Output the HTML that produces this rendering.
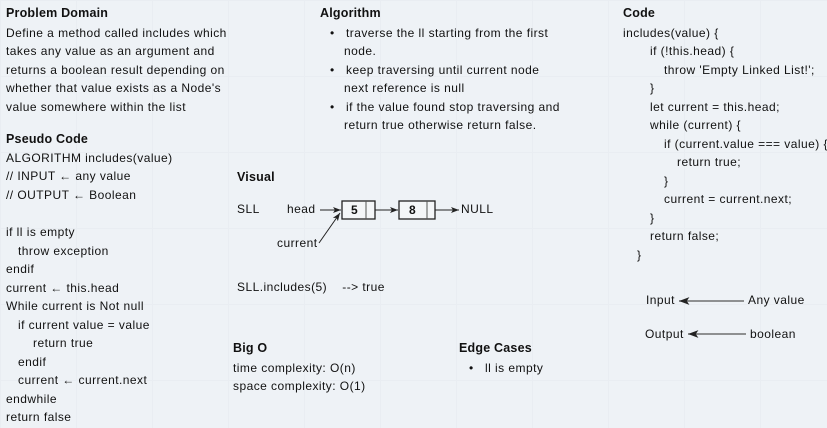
<!DOCTYPE html>
<html><head><meta charset="utf-8"><style>
body{margin:0;width:827px;height:428px;overflow:hidden;background:#eef2f6;font-family:"Liberation Sans",Arial,sans-serif;font-size:12px;color:#111;position:relative;
background-image:linear-gradient(#e9edf2 1px,transparent 1px),linear-gradient(90deg,#e9edf2 1px,transparent 1px);background-size:76px 76px;}
.t{position:absolute;white-space:nowrap;line-height:14px;letter-spacing:0.45px}
.b{font-weight:bold;font-size:12.5px;letter-spacing:0.2px}
</style></head><body>
<div class="t b" style="left:6px;top:6px">Problem Domain</div>
<div class="t" style="left:6px;top:26px">Define a method called includes which</div>
<div class="t" style="left:6px;top:44px">takes any value as an argument and</div>
<div class="t" style="left:6px;top:63px">returns a boolean result depending on</div>
<div class="t" style="left:6px;top:81px">whether that value exists as a Node's</div>
<div class="t" style="left:6px;top:100px">value somewhere within the list</div>
<div class="t b" style="left:6px;top:132px">Pseudo Code</div>
<div class="t" style="left:6px;top:151px">ALGORITHM includes(value)</div>
<div class="t" style="left:6px;top:169px">// INPUT ← any value</div>
<div class="t" style="left:6px;top:188px">// OUTPUT ← Boolean</div>
<div class="t" style="left:6px;top:225px">if ll is empty</div>
<div class="t" style="left:18px;top:244px">throw exception</div>
<div class="t" style="left:6px;top:262px">endif</div>
<div class="t" style="left:6px;top:281px">current ← this.head</div>
<div class="t" style="left:6px;top:299px">While current is Not null</div>
<div class="t" style="left:18px;top:318px">if current value = value</div>
<div class="t" style="left:33px;top:336px">return true</div>
<div class="t" style="left:18px;top:355px">endif</div>
<div class="t" style="left:18px;top:373px">current ← current.next</div>
<div class="t" style="left:6px;top:392px">endwhile</div>
<div class="t" style="left:6px;top:410px">return false</div>

<div class="t b" style="left:320px;top:6px">Algorithm</div>
<div class="t" style="left:330px;top:26px">•&nbsp;&nbsp; traverse the ll starting from the first</div>
<div class="t" style="left:344px;top:44px">node.</div>
<div class="t" style="left:330px;top:63px">•&nbsp;&nbsp; keep traversing until current node</div>
<div class="t" style="left:344px;top:81px">next reference is null</div>
<div class="t" style="left:330px;top:100px">•&nbsp;&nbsp; if the value found stop traversing and</div>
<div class="t" style="left:344px;top:118px">return true otherwise return false.</div>

<div class="t b" style="left:237px;top:170px">Visual</div>
<div class="t" style="left:237px;top:202px">SLL</div>
<div class="t" style="left:287px;top:202px">head</div>
<div class="t" style="left:277px;top:236px">current</div>
<div class="t" style="left:461px;top:202px">NULL</div>
<div class="t" style="left:237px;top:280px">SLL.includes(5)&nbsp;&nbsp;&nbsp; --&gt; true</div>
<svg style="position:absolute;left:0;top:0" width="827" height="428">
<defs><marker id="a" markerWidth="8" markerHeight="6" refX="8" refY="3" orient="auto"><path d="M0,0L8,3L0,6L2,3z" fill="#222"/></marker></defs>
<rect x="342" y="201" width="33" height="18" fill="#f4f6f8" stroke="#222" stroke-width="1.3"/>
<line x1="366" y1="201" x2="366" y2="219" stroke="#555"/>
<rect x="399" y="201" width="36" height="18" fill="#f4f6f8" stroke="#222" stroke-width="1.3"/>
<line x1="427" y1="201" x2="427" y2="219" stroke="#555"/>
<line x1="320" y1="210" x2="341" y2="210" stroke="#222" marker-end="url(#a)"/>
<line x1="319" y1="243" x2="340" y2="213" stroke="#222" marker-end="url(#a)"/>
<line x1="375" y1="210" x2="398" y2="210" stroke="#222" marker-end="url(#a)"/>
<line x1="435" y1="210" x2="459" y2="210" stroke="#222" marker-end="url(#a)"/>
<line x1="744" y1="301" x2="679" y2="301" stroke="#555" stroke-width="1.3" marker-end="url(#a)"/>
<line x1="746" y1="334" x2="688" y2="334" stroke="#555" stroke-width="1.3" marker-end="url(#a)"/>
</svg>
<div class="t" style="left:351px;top:203px;font-weight:bold">5</div>
<div class="t" style="left:409px;top:203px;font-weight:bold">8</div>

<div class="t b" style="left:233px;top:341px">Big O</div>
<div class="t" style="left:233px;top:361px">time complexity: O(n)</div>
<div class="t" style="left:233px;top:379px">space complexity: O(1)</div>
<div class="t b" style="left:459px;top:341px">Edge Cases</div>
<div class="t" style="left:469px;top:361px">•&nbsp;&nbsp; ll is empty</div>

<div class="t b" style="left:623px;top:6px">Code</div>
<div class="t" style="left:623px;top:26px">includes(value) {</div>
<div class="t" style="left:650px;top:44px">if (!this.head) {</div>
<div class="t" style="left:664px;top:63px">throw 'Empty Linked List!';</div>
<div class="t" style="left:650px;top:81px">}</div>
<div class="t" style="left:650px;top:100px">let current = this.head;</div>
<div class="t" style="left:650px;top:118px">while (current) {</div>
<div class="t" style="left:664px;top:137px">if (current.value === value) {</div>
<div class="t" style="left:677px;top:155px">return true;</div>
<div class="t" style="left:664px;top:174px">}</div>
<div class="t" style="left:664px;top:192px">current = current.next;</div>
<div class="t" style="left:650px;top:211px">}</div>
<div class="t" style="left:650px;top:229px">return false;</div>
<div class="t" style="left:637px;top:248px">}</div>
<div class="t" style="left:646px;top:293px">Input</div>
<div class="t" style="left:748px;top:293px">Any value</div>
<div class="t" style="left:645px;top:327px">Output</div>
<div class="t" style="left:750px;top:327px">boolean</div>
</body></html>
